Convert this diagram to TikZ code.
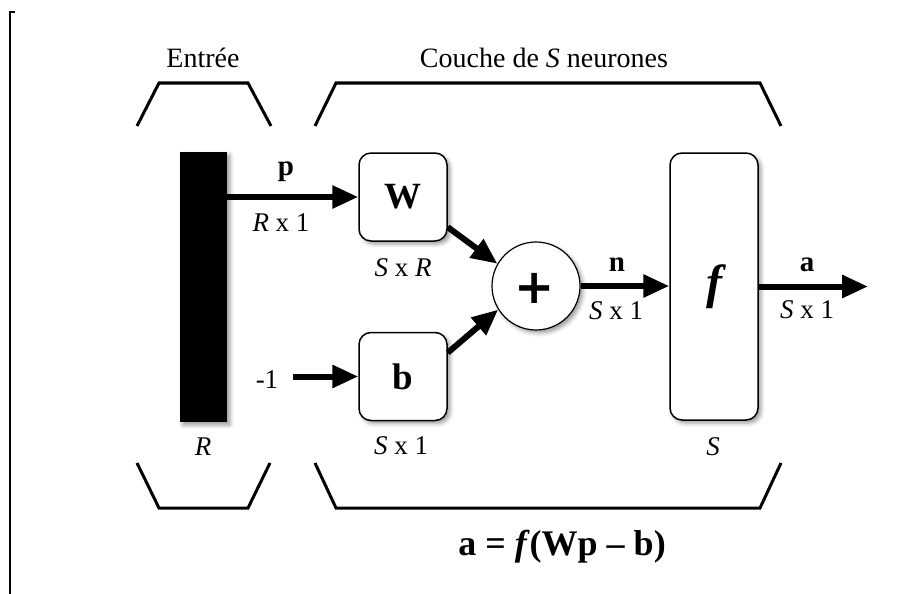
\documentclass[tikz,border=0pt]{standalone}
\usepackage{fontspec}
\setmainfont{Liberation Serif}
\newfontfamily\plusfont{DejaVu Sans}
\usetikzlibrary{arrows.meta,shadows.blur}
\tikzset{
  bracket/.style={line width=3pt, line join=miter},
  conn/.style={line width=6pt, -{Triangle[length=26pt,width=22pt]}},
  softshadow/.style={blur shadow={shadow xshift=3pt, shadow yshift=-3pt, shadow blur radius=4pt}},
  boxnode/.style={draw, line width=1.5pt, rounded corners=12pt, fill=white, minimum width=88pt, minimum height=88pt, inner sep=0pt, softshadow, font=\fontsize{37}{40}\selectfont\bfseries},
  lbl/.style={font=\fontsize{27}{30}\selectfont, inner sep=0pt},
  blbl/.style={font=\fontsize{29}{32}\selectfont\bfseries, inner sep=0pt},
  ttl/.style={font=\fontsize{28}{32}\selectfont, inner sep=0pt},
}
\begin{document}
\begin{tikzpicture}[x=1pt,y=-1pt]
\useasboundingbox (0,0) rectangle (921,594);
% frame edge
\draw[line width=2pt] (15,12) -- (10,12) -- (10,594);
% titles
\node[ttl] (tin) at (203,58) {Entrée};
\node[ttl] (tlay) at (544,58) {Couche de \textit{S} neurones};
% brackets
\draw[bracket] (137,126) -- (159,83) -- (248,83) -- (271,126);
\draw[bracket] (315,126) -- (336,83) -- (760,83) -- (781,126);
\draw[bracket] (137,463) -- (159,508) -- (248,508) -- (270,463);
\draw[bracket] (315,463) -- (336,508) -- (760,508) -- (781,463);
% input bar
\node[fill=black, minimum width=47pt, minimum height=270pt, inner sep=0pt, softshadow] (bar) at (203.5,287) {};
\node[lbl] (lR) at (203,447) {\textit{R}};
% boxes
\node[boxnode] (W) at (403,197) {W};
\node[boxnode] (b) at (403,376.5) {b};
\node[boxnode, minimum height=267pt, font=\fontsize{48}{50}\selectfont\bfseries\itshape] (f) at (714,286.5) {f};
\node[draw, circle, line width=1.2pt, minimum size=88pt, inner sep=0pt, fill=white, softshadow] (plus) at (536,286) {};
\node[font=\fontsize{48}{48}\selectfont\plusfont\bfseries, inner sep=0pt] (plussym) at (535,288) {+};
% labels
\node[blbl] (lp) at (286,172) {p};
\node[lbl] (lRx1) at (281,223) {\textit{R} x 1};
\node[lbl] (lSxR) at (403,268) {\textit{S} x \textit{R}};
\node[lbl] (lm1) at (267,380) {-1};
\node[lbl] (lSx1b) at (401,446) {\textit{S} x 1};
\node[blbl] (ln) at (617,265) {n};
\node[lbl] (lSx1n) at (616,311) {\textit{S} x 1};
\node[blbl] (la) at (807,265) {a};
\node[lbl] (lSx1a) at (807,310) {\textit{S} x 1};
\node[lbl] (lS) at (713,447) {\textit{S}};
\node[font=\fontsize{36}{38}\selectfont\bfseries, inner sep=0pt] (eq) at (562,547) {a = \textit{f}(Wp – b)};
% connectors
\coordinate (m1s) at (293,376.5);
\coordinate (aout) at (868,286.5);
\draw[conn] (bar.east |- W.west) -- (W.west);
\draw[conn] (m1s) -- (b.west);
\draw[conn] (W.-34) -- (plus.150);
\draw[conn] (b.28) -- (plus.212);
\draw[conn] (plus.east) -- (f.west |- plus.east);
\draw[conn] (f.east) -- (aout);
\end{tikzpicture}
\end{document}
